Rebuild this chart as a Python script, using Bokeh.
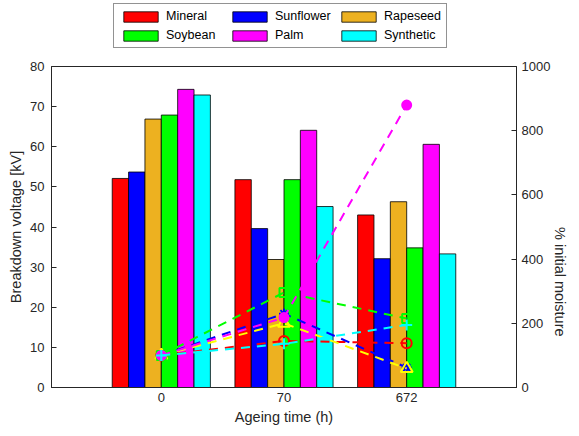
import math
import numpy as np
from bokeh.plotting import figure
from bokeh.layouts import column
from bokeh.models import (Range1d, LinearAxis, FixedTicker, Legend, LegendItem)
from bokeh.embed import file_html
from bokeh.resources import INLINE

# ---- data ----
times = ["0", "70", "672"]
oils = ["Mineral", "Sunflower", "Rapeseed", "Soybean", "Palm", "Synthetic"]
mineral_kv = [52.1, 51.8, 43.0]
sunflower_kv = [53.7, 39.6, 32.1]
rapeseed_kv = [66.9, 31.9, 46.3]
soybean_kv = [67.9, 51.8, 34.8]
palm_kv = [74.3, 64.1, 60.6]
synthetic_kv = [72.9, 45.1, 33.3]

mineral_moist = [100, 145, 138]
sunflower_moist = [100, 230, 62]
rapeseed_moist = [100, 200, 59]
soybean_moist = [100, 296, 215]
palm_moist = [100, 218, 880]
synthetic_moist = [100, 136, 195]

voltages = [mineral_kv, sunflower_kv, rapeseed_kv, soybean_kv, palm_kv, synthetic_kv]
moistures = [mineral_moist, sunflower_moist, rapeseed_moist, soybean_moist, palm_moist, synthetic_moist]

bar_colors = ["#FF0000", "#0000FF", "#EDB120", "#00FF00", "#FF00FF", "#00FFFF"]
line_colors = ["#FF0000", "#0000FF", "#FFFF00", "#00FF00", "#FF00FF", "#00FFFF"]
markers = ["circle", "asterisk", "triangle", "square", "circle", "cross"]
marker_fill = [None, None, None, None, "#FF00FF", None]
marker_size = [10, 10, 12, 9, 9, 11]

FONT = "Liberation Sans"
TXT = "#262626"
TOP_H = 60

# ---- legend strip ----
lg = figure(width=579, height=TOP_H, output_backend="svg", toolbar_location=None,
            x_axis_type=None, y_axis_type=None, x_range=Range1d(0, 1), y_range=Range1d(0, 1),
            min_border_left=0, min_border_right=0, min_border_top=0, min_border_bottom=0)
lg.outline_line_color = None
lg.border_fill_color = "white"
lg.background_fill_color = "white"
lg.grid.visible = False
legend_items = []
for i in range(len(oils)):
    # placeholder renderers (no visible data) that only supply legend swatches
    r = lg.vbar(x=[np.nan], top=[np.nan], width=0.1, fill_color=bar_colors[i],
                line_color="black", line_width=0.8)
    legend_items.append(LegendItem(label=oils[i], renderers=[r]))
legend = Legend(items=legend_items, location=(62, TOP_H - 48), orientation="horizontal", ncols=3,
                glyph_width=43, glyph_height=13, label_height=13, label_width=57,
                label_text_font=FONT, label_text_font_size="12.5px", label_text_color="black",
                border_line_color=TXT, border_line_width=1,
                padding=5, spacing=5, label_standoff=4, margin=0,
                background_fill_alpha=1)
lg.add_layout(legend, "center")

# ---- main chart ----
p = figure(width=579, height=436 - TOP_H, output_backend="svg", toolbar_location=None,
           x_range=Range1d(0.105, 3.895), y_range=Range1d(0, 80),
           min_border_left=51, min_border_right=62, min_border_top=66 - TOP_H, min_border_bottom=49)
p.extra_y_ranges = {"moist": Range1d(0, 1000)}
p.grid.visible = False
p.outline_line_color = TXT
p.outline_line_width = 1

xc = np.arange(1, len(times) + 1)
n = len(oils)
bw = 0.8 / n
for i in range(n):
    xs = xc + (i - (n - 1) / 2) * bw
    p.vbar(x=xs, top=voltages[i], width=bw, fill_color=bar_colors[i],
           line_color="black", line_width=0.8)

for i in range(n):
    p.line(xc, moistures[i], y_range_name="moist", line_color=line_colors[i],
           line_width=2, line_dash="9 7")
    fc = marker_fill[i] if marker_fill[i] else None
    p.scatter(xc, moistures[i], y_range_name="moist", marker=markers[i],
              size=marker_size[i], line_color=line_colors[i], line_width=2,
              fill_color=fc, fill_alpha=1 if fc else 0)

xa = p.xaxis[0]
xa.ticker = FixedTicker(ticks=list(xc))
xa.major_label_overrides = {int(k): t for k, t in zip(xc, times)}
xa.axis_label = "Ageing time (h)"
xa.major_tick_in = 0
xa.major_tick_out = 0
xa.minor_tick_in = 0
xa.minor_tick_out = 0
xa.major_label_standoff = 5
xa.axis_label_standoff = 4

ya = p.yaxis[0]
ya.ticker = FixedTicker(ticks=list(range(0, 81, 10)))
ya.axis_label = "Breakdown voltage [kV]"
ya.major_tick_in = 5
ya.major_tick_out = 0
ya.minor_tick_in = 0
ya.minor_tick_out = 0
ya.major_label_standoff = 7
ya.axis_label_standoff = 3

ra = LinearAxis(y_range_name="moist", ticker=FixedTicker(ticks=list(range(0, 1001, 200))),
                axis_label="% initial moisture")
ra.major_tick_in = 5
ra.major_tick_out = 0
ra.minor_tick_in = 0
ra.minor_tick_out = 0
ra.major_label_standoff = 5
ra.axis_label_standoff = 7
ra.axis_label_orientation = -math.pi / 2
p.add_layout(ra, "right")

for ax in [xa, ya, ra]:
    ax.axis_line_color = TXT
    ax.major_tick_line_color = TXT
    ax.major_label_text_font = FONT
    ax.major_label_text_font_size = "13px"
    ax.major_label_text_color = TXT
    ax.axis_label_text_font = FONT
    ax.axis_label_text_font_size = "14.5px"
    ax.axis_label_text_font_style = "normal"
    ax.axis_label_text_color = TXT

layout = column(lg, p, spacing=0)
open("out.html", "w").write(file_html(layout, INLINE))
